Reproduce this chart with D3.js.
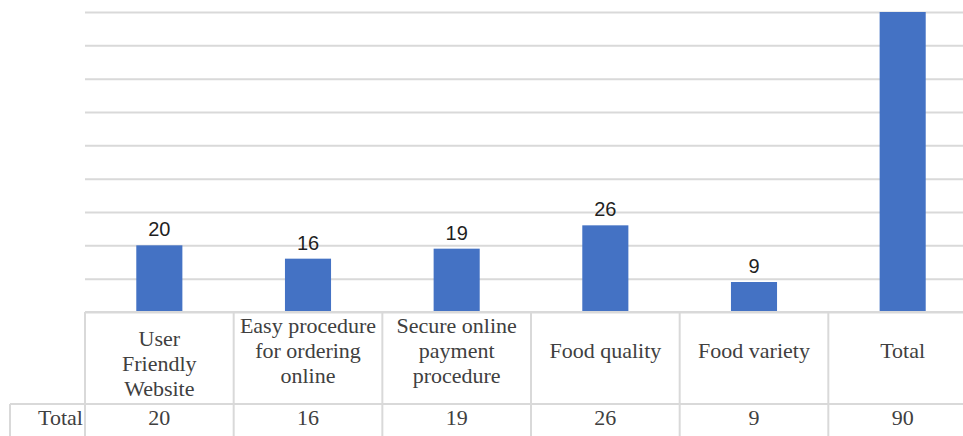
<!DOCTYPE html>
<html>
<head>
<meta charset="utf-8">
<script src="https://cdn.jsdelivr.net/npm/d3@7/dist/d3.min.js"></script>
<style>
  html, body { margin: 0; padding: 0; background: #ffffff; overflow: hidden; }
  svg { display: block; }
</style>
</head>
<body>
<svg id="chart" width="963" height="436"></svg>
<script>
// Survey factors and their counts
const categories = ["User Friendly Website", "Easy procedure for ordering online", "Secure online payment procedure", "Food quality", "Food variety", "Total"];
const categoryLines = [
  ["", "User", "Friendly", "Website"],
  ["Easy procedure", "for ordering", "online"],
  ["Secure online", "payment", "procedure"],
  ["Food quality"],
  ["Food variety"],
  ["Total"]
];
const values = [20, 16, 19, 26, 9, 90];
const showLabel = [true, true, true, true, true, false];
const seriesName = "Total";
const yTicks = [0, 10, 20, 30, 40, 50, 60, 70, 80, 90];

const svg = d3.select("#chart");

const plotLeft = 85, plotRight = 977;   // plot extends slightly past the frame edge
const plotTop = 12, plotBase = 312;     // value axis range
const catRowBottom = 404;
const tableBottom = 460;
const headerLeft = 10;

const gridColor = "#d9d9d9";
const textColor = "#404040";
const barColor = "#4472c4";

const x = d3.scaleBand().domain(categories).range([plotLeft, plotRight]).padding(0);
const y = d3.scaleLinear().domain([0, 90]).range([plotBase, plotTop]);
const barW = x.bandwidth() * 0.31;

// horizontal gridlines
const grid = svg.append("g")
  .attr("transform", `translate(${plotLeft},0)`)
  .call(d3.axisLeft(y).tickValues(yTicks).tickSize(-(plotRight - plotLeft)).tickFormat(""));
grid.select(".domain").remove();
grid.selectAll(".tick line").attr("stroke", gridColor).attr("stroke-width", 2);

// bars
svg.append("g").selectAll("rect")
  .data(values)
  .join("rect")
  .attr("x", (d, i) => x(categories[i]) + (x.bandwidth() - barW) / 2)
  .attr("y", d => y(d))
  .attr("width", barW)
  .attr("height", d => plotBase - y(d))
  .attr("fill", barColor);

// data labels above bars
svg.append("g").selectAll("text")
  .data(values.map((v, i) => ({ v, i })).filter(d => showLabel[d.i]))
  .join("text")
  .attr("x", d => x(categories[d.i]) + x.bandwidth() / 2)
  .attr("y", d => y(d.v) - 9)
  .attr("text-anchor", "middle")
  .attr("font-family", "'Liberation Sans', Arial, sans-serif")
  .attr("font-size", 20)
  .attr("fill", "#1f1f1f")
  .text(d => d.v);

// data table
const table = svg.append("g").attr("stroke", gridColor).attr("stroke-width", 2).attr("fill", "none");
table.append("line").attr("x1", plotLeft).attr("x2", plotRight).attr("y1", plotBase).attr("y2", plotBase);
table.append("line").attr("x1", headerLeft).attr("x2", plotRight).attr("y1", catRowBottom).attr("y2", catRowBottom);
table.append("line").attr("x1", headerLeft).attr("x2", headerLeft).attr("y1", catRowBottom).attr("y2", tableBottom);
table.selectAll("line.col")
  .data(categories.concat(["__end"]))
  .join("line")
  .attr("class", "col")
  .attr("x1", d => d === "__end" ? plotRight : x(d))
  .attr("x2", d => d === "__end" ? plotRight : x(d))
  .attr("y1", plotBase)
  .attr("y2", tableBottom);

const serif = "'Liberation Serif', 'Times New Roman', serif";
const lineH = 25;
const catMid = 350;

// category labels in the table header row
const catG = svg.append("g")
  .attr("font-family", serif)
  .attr("font-size", 22)
  .attr("fill", textColor)
  .attr("text-anchor", "middle");
categories.forEach((c, i) => {
  const lines = categoryLines[i];
  const cx = x(c) + x.bandwidth() / 2;
  const startY = catMid - (lines.length - 1) * lineH / 2;
  const t = catG.append("text").attr("x", cx).attr("y", startY).attr("dominant-baseline", "central");
  lines.forEach((ln, j) => {
    t.append("tspan").attr("x", cx).attr("y", startY + j * lineH).text(ln);
  });
});

// value row
const valMid = 417;
svg.append("text")
  .attr("x", plotLeft - 2)
  .attr("y", valMid)
  .attr("text-anchor", "end")
  .attr("dominant-baseline", "central")
  .attr("font-family", serif)
  .attr("font-size", 22)
  .attr("fill", textColor)
  .text(seriesName);

svg.append("g").selectAll("text")
  .data(values)
  .join("text")
  .attr("x", (d, i) => x(categories[i]) + x.bandwidth() / 2)
  .attr("y", valMid)
  .attr("text-anchor", "middle")
  .attr("dominant-baseline", "central")
  .attr("font-family", serif)
  .attr("font-size", 22)
  .attr("fill", textColor)
  .text(d => d);
</script>
</body>
</html>
